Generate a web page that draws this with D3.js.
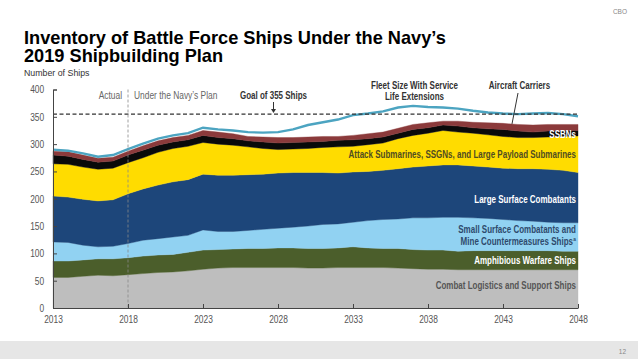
<!DOCTYPE html>
<html>
<head>
<meta charset="utf-8">
<script src="https://cdn.jsdelivr.net/npm/d3@7"></script>
<style>
body { margin: 0; background: #fff; }
svg { display: block; font-family: 'Liberation Sans', Arial, sans-serif; }
</style>
</head>
<body>
<svg id="chart" width="638" height="359"></svg>
<script>

// years on the x axis
var years = [2013, 2014, 2015, 2016, 2017, 2018, 2019, 2020, 2021, 2022, 2023, 2024,
             2025, 2026, 2027, 2028, 2029, 2030, 2031, 2032, 2033, 2034, 2035, 2036,
             2037, 2038, 2039, 2040, 2041, 2042, 2043, 2044, 2045, 2046, 2047, 2048];
var xTicks = [2013, 2018, 2023, 2028, 2033, 2038, 2043, 2048];
var yTicks = [0, 50, 100, 150, 200, 250, 300, 350, 400];

// ships per category (bottom layer first)
var combatLogistics = [56, 56, 58, 60, 59, 61, 63, 65, 66, 68, 71, 73, 74, 74, 74, 74, 74, 73,
                       73, 74, 74, 74, 74, 73, 72, 71, 71, 70, 70, 70, 70, 70, 70, 70, 70, 70];
var amphibious = [30, 30, 30, 30, 31, 31, 32, 32, 32, 34, 35, 34, 34, 35, 35, 36, 36, 36,
                  36, 36, 38, 36, 35, 36, 35, 35, 35, 34, 35, 35, 35, 35, 35, 35, 34, 34];
var smallSurface = [35, 34, 27, 22, 23, 26, 29, 30, 32, 31, 37, 33, 32, 33, 35, 36, 38, 41,
                    44, 44, 45, 50, 53, 54, 58, 59, 60, 62, 60, 59, 57, 55, 54, 52, 52, 52];
var largeSurface = [84, 83, 84, 84, 85, 91, 94, 98, 101, 102, 102, 103, 103, 102, 101, 101, 100, 98,
                    95, 93, 92, 90, 90, 92, 93, 95, 96, 96, 95, 94, 94, 95, 96, 97, 96, 92];
var attackSubs = [59, 60, 59, 58, 58, 57, 57, 60, 61, 61, 58, 57, 55, 51, 47, 43, 43, 44,
                  46, 48, 47, 49, 50, 55, 58, 60, 63, 60, 60, 59, 58, 57, 57, 59, 62, 67];
var ssbns = [16, 15, 14, 13, 13, 14, 14, 13, 12, 12, 13, 12, 12, 11, 12, 12, 12, 12,
             11, 12, 12, 11, 11, 10, 11, 10, 10, 11, 10, 11, 13, 12, 10, 11, 11, 10];
var carriers = [7, 8, 8, 7, 7, 7, 8, 8, 8, 8, 9, 10, 9, 8, 9, 10, 9, 9,
                9, 7, 8, 9, 9, 9, 9, 9, 7, 9, 10, 11, 11, 12, 13, 12, 11, 11];

// total fleet if service lives are extended
var fleetWithSLE = [290, 288, 283, 277, 280, 291, 301, 310, 316, 320, 330, 327, 325, 322, 321, 322, 327, 335,
                    340, 345, 353, 356, 360, 367, 370, 368, 367, 365, 361, 358, 356, 355, 356, 357, 355, 351];

var goal = 355;
var planStart = 2018;

var keys = ['combat', 'amphib', 'small', 'large', 'attack', 'ssbn', 'carrier'];
var colors = {
    combat: '#bebebe',
    amphib: '#4b5e2b',
    small: '#91d2f2',
    large: '#1d467a',
    attack: '#ffdc00',
    ssbn: '#0a0a0a',
    carrier: '#8b3a3b'
};

// no condensed face installed, so squeeze the labels horizontally
var squeeze = 0.8;

var table = years.map(function(yr, i) {
    return {
        year: yr,
        combat: combatLogistics[i],
        amphib: amphibious[i],
        small: smallSurface[i],
        large: largeSurface[i],
        attack: attackSubs[i],
        ssbn: ssbns[i],
        carrier: carriers[i],
        sle: fleetWithSLE[i]
    };
});

var svg = d3.select('#chart');

// page furniture
svg.append('text')
    .attr('x', 627).attr('y', 14)
    .attr('text-anchor', 'end')
    .attr('font-size', 6.5)
    .attr('fill', '#888')
    .text('CBO');

svg.append('rect')
    .attr('x', 0).attr('y', 341)
    .attr('width', 638).attr('height', 18)
    .attr('fill', '#e6e6e6');

svg.append('text')
    .attr('x', 626).attr('y', 354)
    .attr('text-anchor', 'end')
    .attr('font-size', 6.5)
    .attr('fill', '#888')
    .text('12');

var title = svg.append('text')
    .attr('font-size', 18.2)
    .attr('font-weight', 'bold')
    .attr('fill', '#000');
title.append('tspan').attr('x', 24).attr('y', 44)
    .text('Inventory of Battle Force Ships Under the Navy\u2019s');
title.append('tspan').attr('x', 24).attr('y', 62)
    .text('2019 Shipbuilding Plan');

svg.append('text')
    .attr('x', 24).attr('y', 76)
    .attr('font-size', 8.8)
    .attr('fill', '#333')
    .text('Number of Ships');

// scales
var x = d3.scaleLinear()
    .domain([2013, 2048])
    .range([53, 578]);

var y = d3.scaleLinear()
    .domain([0, 400])
    .range([308, 89.5]);

var stack = d3.stack().keys(keys);
var layers = stack(table);

var area = d3.area()
    .x(function(d) { return x(d.data.year); })
    .y0(function(d) { return y(d[0]); })
    .y1(function(d) { return y(d[1]); });

svg.append('g')
    .selectAll('path')
    .data(layers)
  .enter().append('path')
    .attr('d', area)
    .attr('fill', function(d) { return colors[d.key]; })
    .attr('stroke', function(d) { return colors[d.key]; })
    .attr('stroke-width', 0.4);

// fleet size with service life extensions
var sleLine = d3.line()
    .x(function(d) { return x(d.year); })
    .y(function(d) { return y(d.sle); });

svg.append('path')
    .datum(table)
    .attr('d', sleLine)
    .attr('fill', 'none')
    .attr('stroke', '#4ca4c1')
    .attr('stroke-width', 2.4);

// goal line
svg.append('line')
    .attr('x1', x(2013)).attr('x2', x(2048))
    .attr('y1', y(goal)).attr('y2', y(goal))
    .attr('stroke', '#333')
    .attr('stroke-width', 1.2)
    .attr('stroke-dasharray', '4,2.5');

// actual / plan divider
svg.append('line')
    .attr('x1', x(planStart)).attr('x2', x(planStart))
    .attr('y1', y(400)).attr('y2', y(0))
    .attr('stroke', '#888')
    .attr('stroke-width', 0.8)
    .attr('stroke-dasharray', '3,2');

// axes
var yAxis = svg.append('g')
    .attr('transform', 'translate(' + x(2013) + ',0)')
    .call(d3.axisLeft(y).tickValues(yTicks).tickSize(-4).tickSizeOuter(-4).tickPadding(11));

var xAxis = svg.append('g')
    .attr('transform', 'translate(0,' + y(0) + ')')
    .call(d3.axisBottom(x).tickValues(xTicks).tickFormat(d3.format('d'))
        .tickSize(-4).tickSizeOuter(0).tickPadding(8));

[yAxis, xAxis].forEach(function(g) {
    g.attr('font-family', null);
    g.selectAll('text')
        .attr('font-size', 10.5)
        .attr('fill', '#555')
        .attr('transform', 'scale(' + squeeze + ',1)');
    g.selectAll('line, path').attr('stroke', '#444');
});

// annotations
function label(txt, px, py, anchor, color, bold, size) {
    return svg.append('text')
        .attr('transform', 'translate(' + px + ',' + py + ') scale(' + squeeze + ',1)')
        .attr('text-anchor', anchor)
        .attr('font-size', size || 10)
        .attr('font-weight', bold ? 'bold' : 'normal')
        .attr('fill', color)
        .text(txt);
}

label('Actual', x(planStart) - 6, 99, 'end', '#666', false, 10.5);
label('Under the Navy\u2019s Plan', x(planStart) + 6, 99, 'start', '#666', false, 10.5);

label('Goal of 355 Ships', x(2027.7), 99, 'middle', '#333', true);
svg.append('line')
    .attr('x1', x(2027.7)).attr('x2', x(2027.7))
    .attr('y1', 102).attr('y2', y(goal) - 3)
    .attr('stroke', '#333').attr('stroke-width', 1);
svg.append('path')
    .attr('d', 'M' + (x(2027.7) - 2.5) + ',' + (y(goal) - 5) + 'L' + x(2027.7) + ',' + (y(goal) - 1) +
               'L' + (x(2027.7) + 2.5) + ',' + (y(goal) - 5) + 'Z')
    .attr('fill', '#333');

label('Fleet Size With Service', x(2037.1), 89, 'middle', '#333', true, 10);
label('Life Extensions', x(2037.1), 100, 'middle', '#333', true, 10);

label('Aircraft Carriers', x(2044.1), 89, 'middle', '#333', true);
svg.append('line')
    .attr('x1', x(2044.0)).attr('y1', 93)
    .attr('x2', x(2043.6)).attr('y2', y(337))
    .attr('stroke', '#333').attr('stroke-width', 1);

var rx = x(2048) - 2;
label('SSBNs', rx, 137.5, 'end', '#fff', true);
label('Attack Submarines, SSGNs, and Large Payload Submarines', rx, 157.5, 'end', '#4f4c22', true);
label('Large Surface Combatants', rx, 202.5, 'end', '#fff', true);
label('Small Surface Combatants and', rx, 232.5, 'end', '#2e4a6c', true);
label('Mine Countermeasures Ships', rx - 3, 244.5, 'end', '#2e4a6c', true);
label('a', rx, 240.5, 'end', '#2e4a6c', true, 6);
label('Amphibious Warfare Ships', rx, 263.5, 'end', '#fff', true);
label('Combat Logistics and Support Ships', rx, 288.5, 'end', '#555', true);

</script>
</body>
</html>
